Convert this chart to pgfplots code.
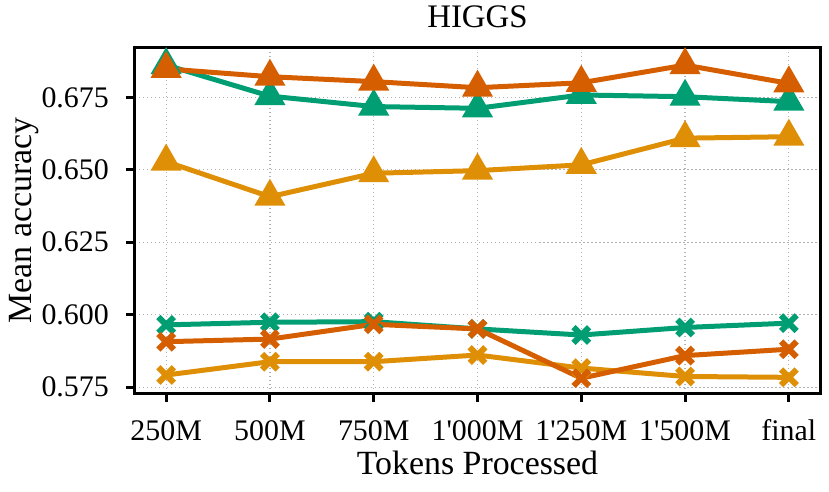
\documentclass[border=0pt]{standalone}
\usepackage{fontspec}
\setmainfont{Liberation Serif}
\usepackage{pgfplots}
\pgfplotsset{compat=1.18}
\definecolor{cgreen}{HTML}{029E73}
\definecolor{cred}{HTML}{D55E00}
\definecolor{cyellow}{HTML}{DE8F05}
\begin{document}
\begin{tikzpicture}
\path[use as bounding box] (-135bp,-99bp) rectangle (694bp,393bp);
\begin{axis}[
 at={(0,0)}, anchor=south west,
 scale only axis, width=685bp, height=345bp,
 xmin=-0.3, xmax=6.3, ymin=0.573, ymax=0.692,
 xtick={0,...,6},
 xticklabels={250M,500M,750M,1\textquotesingle 000M,1\textquotesingle 250M,1\textquotesingle 500M,final},
 ytick={0.575,0.6,0.625,0.65,0.675},
 /pgf/number format/assume math mode=true,
 tick style={line width=3bp, black},
 major tick length=9bp,
 tick align=outside,
 xtick pos=bottom, ytick pos=left,
 axis line style={line width=3bp},
 grid=major, grid style={dash pattern=on 1.5bp off 2.5bp, gray!60, line width=1.2bp},
 tick label style={font=\fontsize{30}{31}\selectfont},
 xticklabel style={anchor=base, yshift=-38.7bp},
 yticklabel style={anchor=east, inner sep=0pt, xshift=-17bp, /pgf/number format/.cd, fixed, fixed zerofill, precision=3},
 label style={font=\fontsize{34}{36}\selectfont},
 title style={font=\fontsize{33}{35}\selectfont, inner sep=0pt, at={(axis description cs:0.5,1.043)}, anchor=base},
 xlabel style={at={(axis description cs:0.5,-0.2362)}, anchor=base},
 ylabel style={at={(axis description cs:-0.1504,0.5)}, anchor=base},
 title=HIGGS, xlabel=Tokens Processed, ylabel=Mean accuracy,
 every axis plot/.append style={line width=5bp, mark options={solid}},
]
% triangles
\addplot[cgreen, mark=triangle*, mark size=13bp] coordinates {
(0,0.6861) (1,0.6754) (2,0.6718) (3,0.6712) (4,0.6758) (5,0.6752) (6,0.6735)};
\addplot[cyellow, mark=triangle*, mark size=13bp] coordinates {
(0,0.6528) (1,0.6407) (2,0.6488) (3,0.6497) (4,0.6517) (5,0.6609) (6,0.6614)};
\addplot[cred, mark=triangle*, mark size=13bp] coordinates {
(0,0.6848) (1,0.6821) (2,0.6804) (3,0.6783) (4,0.6800) (5,0.6861) (6,0.6798)};
% crosses
\addplot[cgreen, mark=x, mark size=11bp, mark options={line width=6bp}] coordinates {
(0,0.5965) (1,0.5974) (2,0.5976) (3,0.5951) (4,0.5930) (5,0.5956) (6,0.5971)};
\addplot[cyellow, mark=x, mark size=11bp, mark options={line width=6bp}] coordinates {
(0,0.5792) (1,0.5838) (2,0.5838) (3,0.5861) (4,0.5816) (5,0.5787) (6,0.5784)};
\addplot[cred, mark=x, mark size=11bp, mark options={line width=6bp}] coordinates {
(0,0.5907) (1,0.5916) (2,0.5967) (3,0.5951) (4,0.5781) (5,0.5859) (6,0.5881)};
\end{axis}
\end{tikzpicture}
\end{document}
